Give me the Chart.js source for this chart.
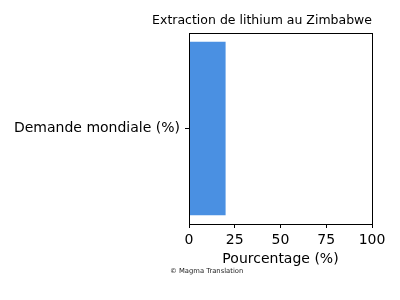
<!DOCTYPE html>
<html>
<head>
<meta charset="utf-8">
<script src="https://cdn.jsdelivr.net/npm/chart.js@4.4.0/dist/chart.umd.min.js"></script>
<style>
  html, body { margin: 0; padding: 0; background: #fff; }
  #wrap { width: 400px; height: 300px; position: relative; }
</style>
</head>
<body>
<div id="wrap"><canvas id="chart"></canvas></div>
<script>
const categories = ['Demande mondiale (%)'];
const values = [20];
const xTicks = [0, 25, 50, 75, 100];
const titleText = 'Extraction de lithium au Zimbabwe';
const xLabel = 'Pourcentage (%)';
const credit = '\u00a9 Magma Translation';

const FONT = "'DejaVu Sans', sans-serif";

// frame round the plot + title, x label and credit line
const extras = {
  id: 'extras',
  afterDraw(chart) {
    const { ctx, chartArea: a } = chart;
    ctx.save();
    ctx.strokeStyle = '#000';
    ctx.lineWidth = 1;
    ctx.strokeRect(Math.round(a.left) + 0.5, Math.round(a.top) + 0.5,
      Math.round(a.right - a.left), Math.round(a.bottom - a.top));
    ctx.fillStyle = '#000';
    ctx.font = '12.5px ' + FONT;
    ctx.textAlign = 'right';
    ctx.textBaseline = 'alphabetic';
    ctx.fillText(titleText, a.right, a.top - 9);
    ctx.font = '14px ' + FONT;
    ctx.textAlign = 'center';
    ctx.textBaseline = 'middle';
    ctx.fillText(xLabel, (a.left + a.right) / 2, 259);
    ctx.fillStyle = '#222';
    ctx.font = '6.8px ' + FONT;
    ctx.textAlign = 'left';
    ctx.textBaseline = 'alphabetic';
    ctx.fillText(credit, 170, 273);
    ctx.restore();
  }
};

new Chart(document.getElementById('chart'), {
  type: 'bar',
  data: {
    labels: categories,
    datasets: [{
      data: values,
      backgroundColor: '#4a90e2',
      borderWidth: 0,
      categoryPercentage: 1,
      barPercentage: 0.909
    }]
  },
  options: {
    indexAxis: 'y',
    responsive: true,
    maintainAspectRatio: false,
    animation: false,
    layout: { padding: { top: 33, right: 28, left: 0, bottom: 0 } },
    plugins: { legend: { display: false }, tooltip: { enabled: false } },
    scales: {
      x: {
        min: 0, max: 100,
        afterBuildTicks(axis) { axis.ticks = xTicks.map(v => ({ value: v })); },
        afterFit(axis) { axis.height = 76; },
        grid: { drawOnChartArea: false, tickLength: 4, color: '#000' },
        border: { display: false },
        ticks: { color: '#000', font: { family: FONT, size: 14 }, padding: 4, maxRotation: 0 }
      },
      y: {
        afterFit(axis) { axis.width = 189; },
        grid: { drawOnChartArea: false, tickLength: 4, color: '#000', offset: false },
        border: { display: false },
        ticks: { color: '#000', font: { family: FONT, size: 14 }, padding: 5 }
      }
    }
  },
  plugins: [extras]
});
</script>
</body>
</html>
